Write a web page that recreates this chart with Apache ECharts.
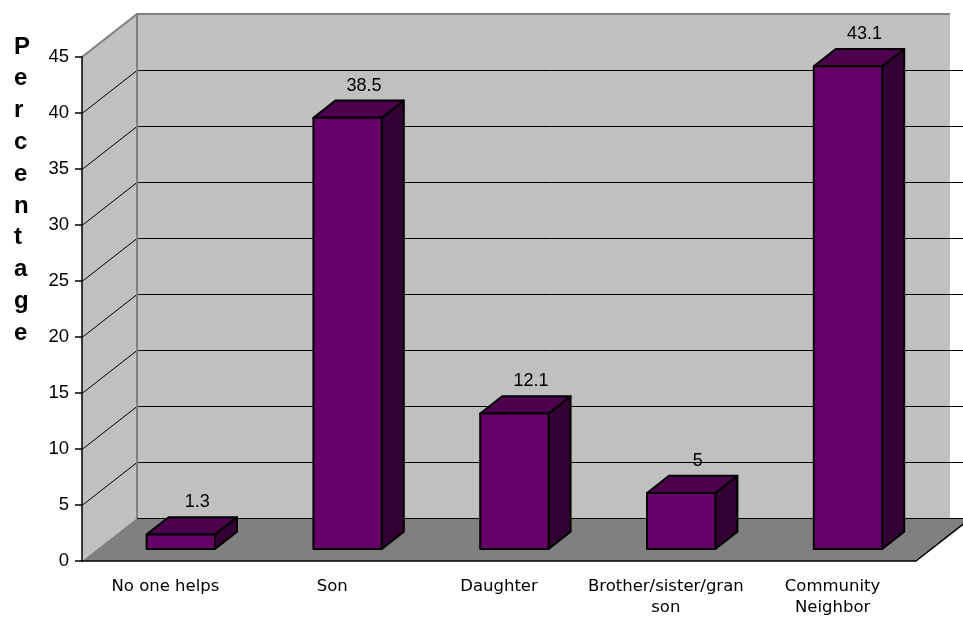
<!DOCTYPE html>
<html>
<head>
<meta charset="utf-8">
<script src="https://cdn.jsdelivr.net/npm/echarts@6/dist/echarts.min.js"></script>
<style>
html, body { margin: 0; padding: 0; background: #fff; }
#main { width: 963px; height: 618px; }
</style>
</head>
<body>
<div id="main"></div>
<script>
var categories = ['No one helps', 'Son', 'Daughter', 'Brother/sister/gran\nson', 'Community\nNeighbor'];
var percentages = [1.3, 38.5, 12.1, 5, 43.1];
var axisMin = 0, axisMax = 45, axisStep = 5;
var axisTitle = 'Percentage';

// 3d look: depth of the floor / side wall in pixels
var DX = 55, DY = -43;
var BAR_FRONT = 0.28, BAR_BACK = 0.68;   // bar placed inside the floor depth
var WALL_END = 34;                        // back wall fill stops before full depth

var tickValues = [];
for (var v = axisMin; v <= axisMax; v += axisStep) tickValues.push(v);

function wallItem(params, api) {
    var cs = params.coordSys;
    var x0 = cs.x, x1 = cs.x + cs.width;
    var yTop = api.coord([0, axisMax])[1];
    var yBot = api.coord([0, axisMin])[1];
    var kids = [];
    // side wall
    kids.push({type: 'polygon', shape: {points: [[x0, yTop], [x0 + DX, yTop + DY], [x0 + DX, yBot + DY], [x0, yBot]]},
        style: {fill: '#c0c0c0'}});
    // back wall
    kids.push({type: 'rect', shape: {x: x0 + DX, y: yTop + DY, width: x1 - x0 + WALL_END - DX, height: yBot - yTop},
        style: {fill: '#c0c0c0'}});
    // floor
    kids.push({type: 'polygon', shape: {points: [[x0, yBot], [x1, yBot], [x1 + DX, yBot + DY], [x0 + DX, yBot + DY]]},
        style: {fill: '#808080'}});
    tickValues.forEach(function (t) {
        if (t >= axisMax) return;
        var y = Math.round(api.coord([0, t])[1]) + 0.5;
        kids.push({type: 'line', shape: {x1: x0 + DX, y1: y + DY, x2: x1 + DX, y2: y + DY},
            style: {stroke: '#000', lineWidth: 1}});
        if (t > axisMin) {
            kids.push({type: 'line', shape: {x1: x0, y1: y, x2: x0 + DX, y2: y + DY},
                style: {stroke: '#000', lineWidth: 1}});
        }
    });
    // grey outline of the walls
    kids.push({type: 'polyline', shape: {points: [[x0, yTop], [x0 + DX, yTop + DY], [x1 + WALL_END, yTop + DY]]},
        style: {stroke: '#808080', lineWidth: 2, fill: null}});
    kids.push({type: 'line', shape: {x1: x0 + DX, y1: yTop + DY, x2: x0 + DX, y2: yBot + DY},
        style: {stroke: '#808080', lineWidth: 2}});
    // right edge of floor
    kids.push({type: 'line', shape: {x1: x1, y1: yBot, x2: x1 + DX, y2: yBot + DY},
        style: {stroke: '#000', lineWidth: 1.5}});
    return {type: 'group', children: kids};
}

function barItem(params, api) {
    var top = api.coord([api.value(0), api.value(1)]);
    var base = api.coord([api.value(0), 0]);
    var w = api.size([1, 0])[0] * 0.41;
    var fx = DX * BAR_FRONT, fy = DY * BAR_FRONT;
    var bx = DX * (BAR_BACK - BAR_FRONT), by = DY * (BAR_BACK - BAR_FRONT);
    var xl = top[0] - w / 2 + fx, xr = xl + w;
    var yt = top[1] + fy, yb = base[1] + fy;
    var line = {stroke: '#000', lineWidth: 2, lineJoin: 'round'};
    return {
        type: 'group',
        children: [
            {type: 'polygon', shape: {points: [[xr, yt], [xr + bx, yt + by], [xr + bx, yb + by], [xr, yb]]},
                style: Object.assign({fill: '#330033'}, line)},
            {type: 'polygon', shape: {points: [[xl, yt], [xr, yt], [xr + bx, yt + by], [xl + bx, yt + by]]},
                style: Object.assign({fill: '#4d004d'}, line)},
            {type: 'rect', shape: {x: xl, y: yt, width: w, height: yb - yt},
                style: Object.assign({fill: '#660066'}, line)},
            {type: 'text', x: (xl + xr) / 2 + bx * 0.75, y: yt + by - 15,
                style: {text: String(api.value(1)), fill: '#000', font: '18px "Liberation Sans", Arial, sans-serif',
                    align: 'center', verticalAlign: 'middle'}}
        ]
    };
}

var option = {
    backgroundColor: '#fff',
    animation: false,
    grid: {left: 82, right: 47, top: 57, bottom: 52},
    xAxis: {
        type: 'category',
        data: categories,
        axisLine: {lineStyle: {color: '#000', width: 1.5}},
        axisTick: {length: 7, lineStyle: {color: '#000', width: 1.5}},
        axisLabel: {interval: 0, margin: 15, lineHeight: 21, color: '#000',
            fontFamily: 'DejaVu Sans', fontSize: 16.5},
        splitLine: {show: false}
    },
    yAxis: {
        type: 'value',
        min: axisMin, max: axisMax, interval: axisStep,
        axisLine: {show: true, lineStyle: {color: '#000', width: 1.5}},
        axisTick: {show: true, length: 7, lineStyle: {color: '#000', width: 1.5}},
        axisLabel: {margin: 13, color: '#000', fontFamily: '"Liberation Sans", Arial', fontSize: 18.5},
        splitLine: {show: false}
    },
    graphic: [{
        type: 'text', left: 14, top: 31,
        style: {text: axisTitle.split('').join('\n'), font: 'bold 24px "Liberation Sans", Arial, sans-serif',
            lineHeight: 31.8, align: 'center', fill: '#000'}
    }],
    series: [
        {type: 'custom', z: -1, clip: false, silent: true, data: [0], renderItem: wallItem},
        {type: 'custom', clip: false, data: percentages.map(function (p, i) { return [i, p]; }),
            encode: {x: 0, y: 1}, renderItem: barItem}
    ]
};

var myChart = echarts.init(document.getElementById('main'));
myChart.setOption(option);
</script>
</body>
</html>
